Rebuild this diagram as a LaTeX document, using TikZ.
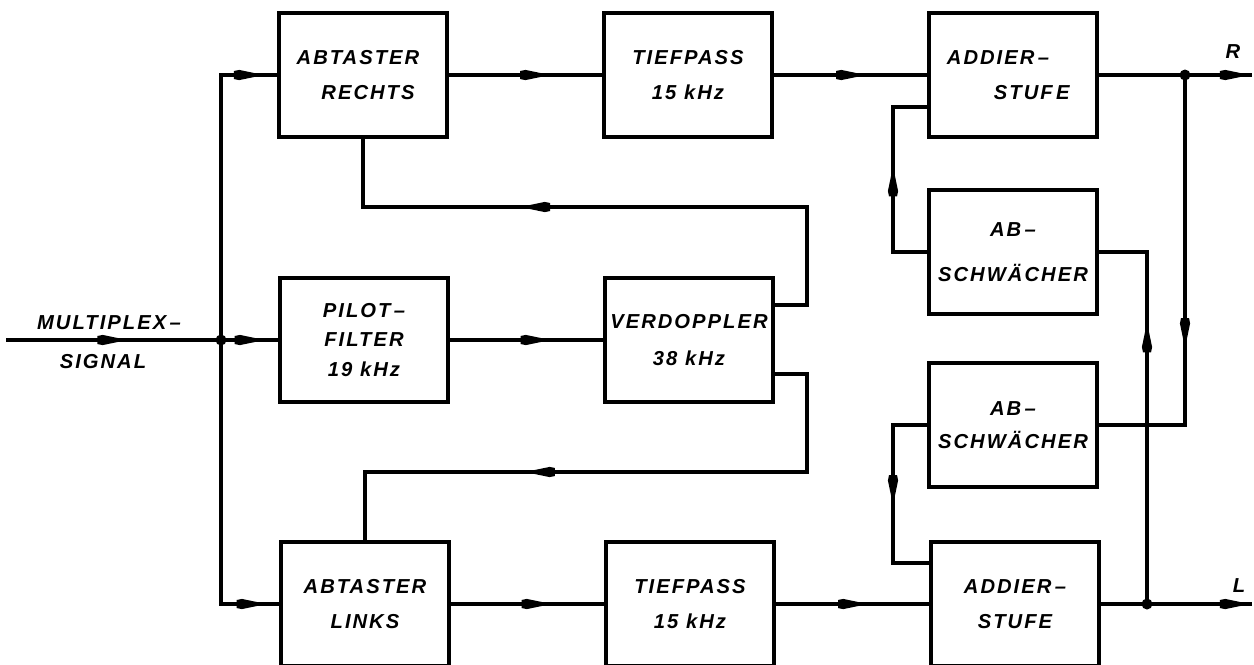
\documentclass[tikz,border=0pt]{standalone}
\usepackage{fontspec}
\setmainfont{Liberation Sans}
\newfontfamily\boxfont[LetterSpace=10]{Liberation Sans}
\usetikzlibrary{decorations.markings}
\begin{document}
\begin{tikzpicture}[x=0.02cm,y=-0.02cm, line width=1.9pt, line cap=rect,
  box/.style={draw, minimum width=3.36cm, minimum height=2.48cm, inner sep=0pt, align=center,
    font=\boxfont\bfseries\itshape\fontsize{11.5}{20}\selectfont},
  lbl/.style={inner sep=0pt, font=\boxfont\bfseries\itshape\fontsize{11.5}{13}\selectfont},
  midarr/.style={postaction={decorate}, decoration={markings, mark=at position #1 with
    {\fill (0pt,0pt) -- (-14pt,2.9pt) -- (-17pt,2.3pt) -- (-17pt,-2.3pt) -- (-14pt,-2.9pt) -- cycle;}}},
  jdot/.style={circle, fill, inner sep=0pt, minimum size=0.22cm}]
\useasboundingbox (0,0) rectangle (1254,664);

% boxes
\node[box] (AR) at (363,75) {ABTASTER\hbox to 0.2cm{}\\\hbox to 0.2cm{}RECHTS};
\node[box] (TR) at (688,75) {TIEFPASS\\15 kHz};
\node[box] (ADR) at (1013,75) {ADDIER\,–\hbox to 0.6cm{}\\\hbox to 0.75cm{}STUF\,E};
\node[box, font=\boxfont\bfseries\itshape\fontsize{11.5}{26}\selectfont] (ABR) at (1013,252) {AB\,–\\SCHWÄCHER};
\node[box, font=\boxfont\bfseries\itshape\fontsize{11.5}{17}\selectfont] (PF) at (364,340) {PILOT\,–\\FILTER\\19 kHz};
\node[box, font=\boxfont\bfseries\itshape\fontsize{11.5}{21}\selectfont] (VD) at (689,340) {VERDOPPLER\\38 kHz};
\node[box, font=\boxfont\bfseries\itshape\fontsize{11.5}{19}\selectfont] (ABL) at (1013,425) {AB\,–\\SCHWÄCHER};
\node[box] (AL) at (365,604) {ABTASTER\\LINKS};
\node[box] (TL) at (690,604) {TIEFPASS\\15 kHz};
\node[box] (ADL) at (1015,604) {ADDIER\,–\\STUFE};

% labels
\node[lbl] (mlt) at (109,323) {MULTIPLEX\,–};
\node[lbl] (sig) at (103,362) {SIGNAL};
\node[lbl] (rl) at (1233,52) {R};
\node[lbl] (ll) at (1239,586) {L};

% coordinates
\coordinate (in) at (8,340);
\coordinate (j1) at (221,340);
\coordinate (c1) at (221,75);
\coordinate (c2) at (221,604);
\coordinate (jR) at (1185,75);
\coordinate (Rout) at (1250,75);
\coordinate (jL) at (1147,604);
\coordinate (Lout) at (1250,604);
\coordinate (cR) at (1185,425);
\coordinate (cL) at (1147,252);
\coordinate (a1) at (893,252);
\coordinate (a2) at (893,107);
\coordinate (b1) at (893,425);
\coordinate (b2) at (893,563);
\coordinate (v1) at (772,305);
\coordinate (v2) at (807,305);
\coordinate (v3) at (807,207);
\coordinate (v5) at (772,374);
\coordinate (v6) at (807,374);
\coordinate (v7) at (807,472);

% input
\draw[midarr=0.56] (in) -- (j1);
\draw[midarr=0.76] (j1) -- (PF.west);
\draw (c1) -- (c2);
\draw[midarr=0.76] (c1) -- (AR.west);
\draw[midarr=0.78] (c2) -- (AL.west);

% main chains
\draw[midarr=0.66] (AR.east) -- (TR.west);
\draw[midarr=0.6] (TR.east) -- (ADR.west);
\draw[midarr=0.656] (PF.east) -- (VD.west);
\draw[midarr=0.656] (AL.east) -- (TL.west);
\draw[midarr=0.6] (TL.east) -- (ADL.west);

% outputs
\draw[midarr=0.999] (ADR.east) -- (Rout);
\draw[midarr=0.999] (ADL.east) -- (Lout);

% cross feeds
\draw[midarr=0.78] (jR) -- (cR);
\draw (cR) -- (cR -| ABL.east);
\draw[midarr=0.80] (jL) -- (cL);
\draw (cL) -- (cL -| ABR.east);
\draw (a1 -| ABR.west) -- (a1);
\draw[midarr=0.59] (a1) -- (a2);
\draw (a2) -- (a2 -| ADR.west);
\draw (b1 -| ABL.west) -- (b1);
\draw[midarr=0.58] (b1) -- (b2);
\draw (b2) -- (b2 -| ADL.west);

% carrier feeds
\draw (v1 -| VD.east) -- (v2) -- (v3);
\draw[midarr=0.646] (v3) -- (v3 -| AR.south);
\draw (v3 -| AR.south) -- (AR.south);
\draw (v5 -| VD.east) -- (v6) -- (v7);
\draw[midarr=0.638] (v7) -- (v7 -| AL.north);
\draw (v7 -| AL.north) -- (AL.north);

% junction dots
\node[jdot] (d1) at (j1) {};
\node[jdot] (d2) at (jR) {};
\node[jdot] (d3) at (jL) {};
\end{tikzpicture}
\end{document}
